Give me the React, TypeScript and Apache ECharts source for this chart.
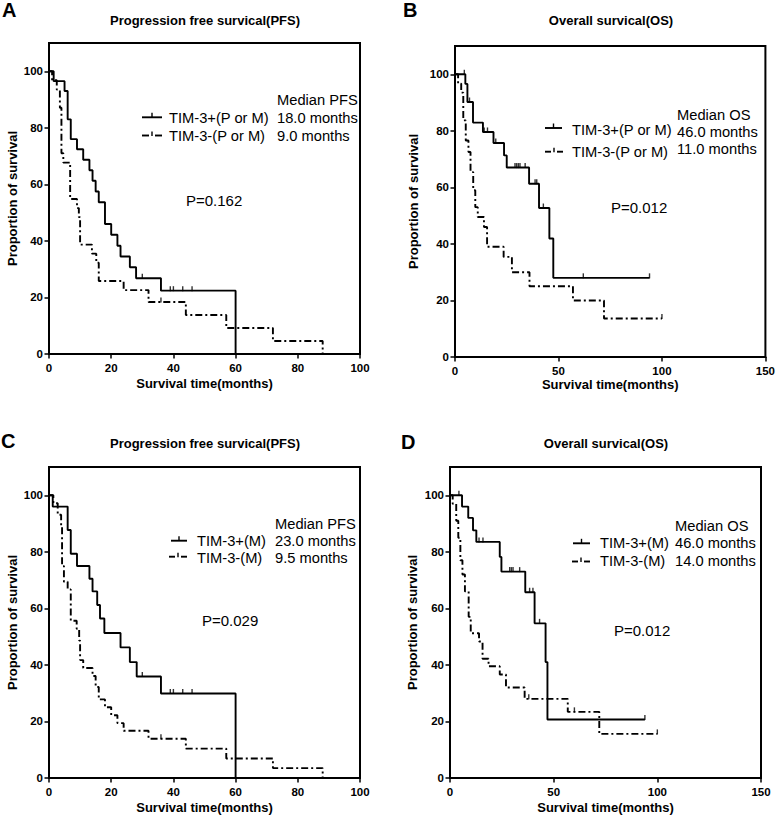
import React, { useEffect, useRef } from "react";
import * as echarts from "echarts";

const FONT = "'Liberation Sans', Arial, Helvetica, sans-serif";

// ---------- Panel A: PFS, TIM-3 (P or M) ----------
const aPosT = [0, 1.5, 5, 6, 7, 9, 11, 13, 14, 15, 16, 18, 20, 22, 23, 26, 28, 36, 60];
const aPosV = [100, 96.5, 93, 83, 76, 72.4, 68.7, 65, 61.3, 57.5, 53.7, 46, 42.2, 38.3, 34.5, 30.7, 26.8, 22.4, 0];
const aPosCens = [30, 39, 40, 43, 46];
const aNegT = [0, 1, 2.5, 3.5, 4, 4.6, 6.8, 9, 9.6, 10, 13.8, 15.2, 16, 24, 32, 44, 57, 72, 88];
const aNegV = [100, 96.8, 93.5, 87.1, 71, 67.7, 54.8, 51.6, 48.4, 38.7, 35.5, 32.3, 25.8, 22.6, 18.4, 13.8, 9.2, 4.6, 0];
const aNegCens = [36];

// ---------- Panel B: OS, TIM-3 (P or M) ----------
const bPosT = [0, 5, 6, 8.7, 13.5, 18.6, 23.7, 25, 35.8, 40.6, 45.6, 47.5, 94];
const bPosV = [100, 96.6, 90.2, 82.9, 79.6, 75.7, 71.3, 67, 61.3, 52.7, 41.9, 28, 28];
const bPosCens = [4.5, 7, 14.1, 15.7, 19.7, 29, 29.8, 30.6, 31.4, 33.9, 38.7, 39.5, 42.7, 62, 94];
const bNegT = [0, 1.5, 3, 4, 5.2, 6.5, 7.5, 8.8, 9.8, 11, 14, 15.5, 23.5, 27.5, 36, 57, 72, 100];
const bNegV = [100, 96.7, 93.5, 83.7, 76.6, 72.5, 65.4, 59, 53, 49.5, 46, 39, 35.4, 30, 25, 20, 13.6, 13.6];
const bNegCens = [100];

// ---------- Panel C: PFS, TIM-3 (M) ----------
const cPosT = [0, 1.2, 6, 7, 9, 13, 14, 15.5, 16.4, 17.8, 23, 26, 28.2, 36, 60];
const cPosV = [100, 96, 87.7, 79.3, 75, 70.5, 66, 61.2, 56.4, 51.3, 46.2, 41, 35.9, 29.9, 0];
const cPosCens = [30, 39, 40, 43, 46];
const cNegT = [0, 1.4, 2.8, 3.9, 4.2, 4.8, 6, 7, 8.9, 9.7, 10, 11, 14, 15, 16, 18, 20, 22, 24, 32, 44, 57, 72, 88];
const cNegV = [100, 97.2, 93.1, 88.9, 75, 69.4, 66.7, 55.6, 52.8, 48.6, 41.7, 38.9, 36.1, 32.2, 27.8, 25, 22.2, 19.4, 16.7, 13.9, 10.4, 6.9, 3.5, 0];
const cNegCens = [36];

// ---------- Panel D: OS, TIM-3 (M) ----------
const dPosT = [0, 5.8, 8.8, 11.1, 12.7, 24, 24.8, 36.3, 40.8, 46.1, 47, 94];
const dPosV = [100, 96, 92, 87.6, 83.5, 78.2, 73, 65.7, 54.7, 41, 20.7, 20.7];
const dPosCens = [4.3, 14, 15.9, 28.8, 29.6, 30.4, 33.6, 38.4, 40, 43.2, 94];
const dNegT = [0, 1.3, 3, 4, 5, 6, 7.2, 9, 10, 14, 15.7, 18.6, 24, 27, 36, 56.8, 72, 100];
const dNegV = [100, 97, 91, 85, 77, 72, 66, 57, 51.2, 48.3, 42.2, 39.5, 36.6, 32, 28, 23.4, 15.6, 15.6];
const dNegCens = [38, 60, 100];

// ---------- texts ----------
const panelLetters = ["A", "B", "C", "D"];
const panelTitles = [
  "Progression free survical(PFS)",
  "Overall survical(OS)",
  "Progression free survical(PFS)",
  "Overall survical(OS)",
];
const posNames = ["TIM-3+(P or M)", "TIM-3+(P or M)", "TIM-3+(M)", "TIM-3+(M)"];
const negNames = ["TIM-3-(P or M)", "TIM-3-(P or M)", "TIM-3-(M)", "TIM-3-(M)"];
const medianHeads = ["Median PFS", "Median OS", "Median PFS", "Median OS"];
const posMedians = ["18.0 months", "46.0 months", "23.0 months", "46.0 months"];
const negMedians = ["9.0 months", "11.0 months", "9.5 months", "14.0 months"];
const pValues = ["P=0.162", "P=0.012", "P=0.029", "P=0.012"];
const xMaxes = [100, 150, 100, 150];
const xIntervals = [20, 50, 20, 50];
const yTicks = [0, 20, 40, 60, 80, 100];
const xName = "Survival time(months)";
const yName = "Proportion of survival";

const panels = [
  { pt: aPosT, pv: aPosV, pc: aPosCens, nt: aNegT, nv: aNegV, nc: aNegCens },
  { pt: bPosT, pv: bPosV, pc: bPosCens, nt: bNegT, nv: bNegV, nc: bNegCens },
  { pt: cPosT, pv: cPosV, pc: cPosCens, nt: cNegT, nv: cNegV, nc: cNegCens },
  { pt: dPosT, pv: dPosV, pc: dPosCens, nt: dNegT, nv: dNegV, nc: dNegCens },
];

// layout (pixels)
const grids = [
  { left: 49, top: 43, width: 311, height: 311 },
  { left: 455, top: 46, width: 311, height: 311 },
  { left: 49, top: 467, width: 311, height: 311 },
  { left: 450, top: 467, width: 311, height: 311 },
];
const xNameGaps = [23, 21, 23, 23];
const yNameGaps = [30, 35, 30, 31];

const layoutText = [
  {
    letter: [2, 10], title: [205, 20], head: [277, 99.5], pos: [169, 117.5], posMed: [277, 117.5],
    neg: [169, 135.5], negMed: [277, 135.5], p: [186, 200], solid: [142, 162, 117.3], dash: [142, 162, 135.5],
  },
  {
    letter: [403, 10], title: [611, 20], head: [677, 114.5], pos: [572, 130], posMed: [677, 131.5],
    neg: [572, 152], negMed: [677, 148.5], p: [611, 207], solid: [545, 562, 128], dash: [545, 563, 151.7],
  },
  {
    letter: [1, 441], title: [205, 443], head: [275, 523.7], pos: [197, 540.7], posMed: [275, 541.3],
    neg: [197, 557.7], negMed: [275, 557.7], p: [202, 620.7], solid: [171, 187, 540.7], dash: [169, 187, 556.7],
  },
  {
    letter: [401, 441.5], title: [606, 443], head: [675, 526], pos: [600, 543.3], posMed: [675, 543.3],
    neg: [600, 561], negMed: [675, 561], p: [614, 630], solid: [573, 590, 543.3], dash: [572, 590, 561.5],
  },
];

const DASH = [7, 3, 2, 3];
const LEG_FONT = 14.7;

function pairs(t: number[], v: number[]) {
  return t.map((x, i) => [x, v[i]]);
}
function survAt(t: number[], v: number[], time: number) {
  let s = v[0];
  for (let i = 0; i < t.length; i++) if (t[i] <= time) s = v[i];
  return s;
}

function txt(text: string, x: number, y: number, size: number, weight: string, align = "left") {
  return {
    type: "text",
    x,
    y,
    silent: true,
    style: {
      text,
      fill: "#000",
      font: `${weight} ${size}px ${FONT}`,
      fontSize: size,
      fontWeight: weight,
      fontFamily: FONT,
      textAlign: align,
      textVerticalAlign: "middle",
      align,
      verticalAlign: "middle",
    },
  };
}

function buildOption() {
  const series: any[] = [];
  const graphic: any[] = [];
  panels.forEach((p, i) => {
    series.push({
      type: "line",
      name: posNames[i],
      xAxisIndex: i,
      yAxisIndex: i,
      step: "end",
      showSymbol: false,
      symbol: "none",
      data: pairs(p.pt, p.pv),
      lineStyle: { color: "#000", width: 1.9, type: "solid" },
      z: 3,
    });
    series.push({
      type: "line",
      name: negNames[i],
      xAxisIndex: i,
      yAxisIndex: i,
      step: "end",
      showSymbol: false,
      symbol: "none",
      data: pairs(p.nt, p.nv),
      lineStyle: { color: "#000", width: 1.9, type: DASH },
      z: 3,
    });
    series.push({
      type: "scatter",
      xAxisIndex: i,
      yAxisIndex: i,
      symbol: "rect",
      symbolSize: [1.4, 5],
      symbolOffset: [0, -2],
      itemStyle: { color: "#000" },
      data: p.pc.map((c) => [c, survAt(p.pt, p.pv, c)]),
      z: 4,
    });
    series.push({
      type: "scatter",
      xAxisIndex: i,
      yAxisIndex: i,
      symbol: "rect",
      symbolSize: [1.4, 5],
      symbolOffset: [0, -2],
      itemStyle: { color: "#000" },
      data: p.nc.map((c) => [c, survAt(p.nt, p.nv, c)]),
      z: 4,
    });

    const L = layoutText[i];
    graphic.push(txt(panelLetters[i], L.letter[0], L.letter[1], 20, "bold"));
    graphic.push(txt(panelTitles[i], L.title[0], L.title[1], 13, "bold", "center"));
    graphic.push(txt(medianHeads[i], L.head[0], L.head[1], LEG_FONT, "normal"));
    graphic.push(txt(posNames[i], L.pos[0], L.pos[1], LEG_FONT, "normal"));
    graphic.push(txt(posMedians[i], L.posMed[0], L.posMed[1], LEG_FONT, "normal"));
    graphic.push(txt(negNames[i], L.neg[0], L.neg[1], LEG_FONT, "normal"));
    graphic.push(txt(negMedians[i], L.negMed[0], L.negMed[1], LEG_FONT, "normal"));
    graphic.push(txt(pValues[i], L.p[0], L.p[1], 15, "normal"));
    // solid legend sample with censor tick
    graphic.push({
      type: "line",
      silent: true,
      shape: { x1: L.solid[0], y1: L.solid[2], x2: L.solid[1], y2: L.solid[2] },
      style: { stroke: "#000", lineWidth: 1.9 },
    });
    const mid = (L.solid[0] + L.solid[1]) / 2;
    graphic.push({
      type: "line",
      silent: true,
      shape: { x1: mid, y1: L.solid[2], x2: mid, y2: L.solid[2] - 4.5 },
      style: { stroke: "#000", lineWidth: 1.4 },
    });
    // dash-dot legend sample: dash, tick, dash
    const d0 = L.dash[0];
    const d1 = L.dash[1];
    const dm = (d0 + d1) / 2;
    graphic.push({
      type: "line",
      silent: true,
      shape: { x1: d0, y1: L.dash[2], x2: dm - 3, y2: L.dash[2] },
      style: { stroke: "#000", lineWidth: 1.9 },
    });
    graphic.push({
      type: "line",
      silent: true,
      shape: { x1: dm + 3, y1: L.dash[2], x2: d1, y2: L.dash[2] },
      style: { stroke: "#000", lineWidth: 1.9 },
    });
    graphic.push({
      type: "line",
      silent: true,
      shape: { x1: dm, y1: L.dash[2] + 0.5, x2: dm, y2: L.dash[2] - 4 },
      style: { stroke: "#000", lineWidth: 1.4 },
    });
  });

  const axisText = { color: "#000", fontWeight: "bold", fontSize: 11.5, fontFamily: FONT };
  const nameText = { color: "#000", fontWeight: "bold", fontSize: 13, fontFamily: FONT };

  return {
    animation: false,
    backgroundColor: "#fff",
    grid: grids.map((g) => ({ ...g, show: true, borderColor: "#000", borderWidth: 2, backgroundColor: "transparent" })),
    xAxis: grids.map((_, i) => ({
      type: "value",
      gridIndex: i,
      min: 0,
      max: xMaxes[i],
      interval: xIntervals[i],
      name: xName,
      nameLocation: "middle",
      nameGap: xNameGaps[i],
      nameTextStyle: nameText,
      splitLine: { show: false },
      axisLine: { show: true, onZero: false, lineStyle: { color: "#000", width: 2 } },
      axisTick: { show: true, length: 4.5, lineStyle: { color: "#000", width: 1.5 } },
      axisLabel: { ...axisText, margin: 8 },
    })),
    yAxis: grids.map((_, i) => ({
      type: "value",
      gridIndex: i,
      min: 0,
      max: 110,
      interval: 20,
      name: yName,
      nameLocation: "middle",
      nameGap: yNameGaps[i],
      nameTextStyle: nameText,
      splitLine: { show: false },
      axisLine: { show: true, onZero: false, lineStyle: { color: "#000", width: 2 } },
      axisTick: { show: true, length: 4.5, customValues: yTicks, lineStyle: { color: "#000", width: 1.5 } },
      axisLabel: {
        ...axisText,
        margin: 6,
        customValues: yTicks,
        formatter: (v: number) => (v > 100 ? "" : String(v)),
      },
    })),
    series,
    graphic,
  };
}

export default function App() {
  const ref = useRef<HTMLDivElement>(null);
  useEffect(() => {
    if (!ref.current) return;
    const chart = echarts.init(ref.current, null, { renderer: "svg" });
    chart.setOption(buildOption() as any);
    return () => chart.dispose();
  }, []);
  return (
    <div
      ref={ref}
      style={{ position: "absolute", left: 0, top: 0, width: 778, height: 816, background: "#fff" }}
    />
  );
}
